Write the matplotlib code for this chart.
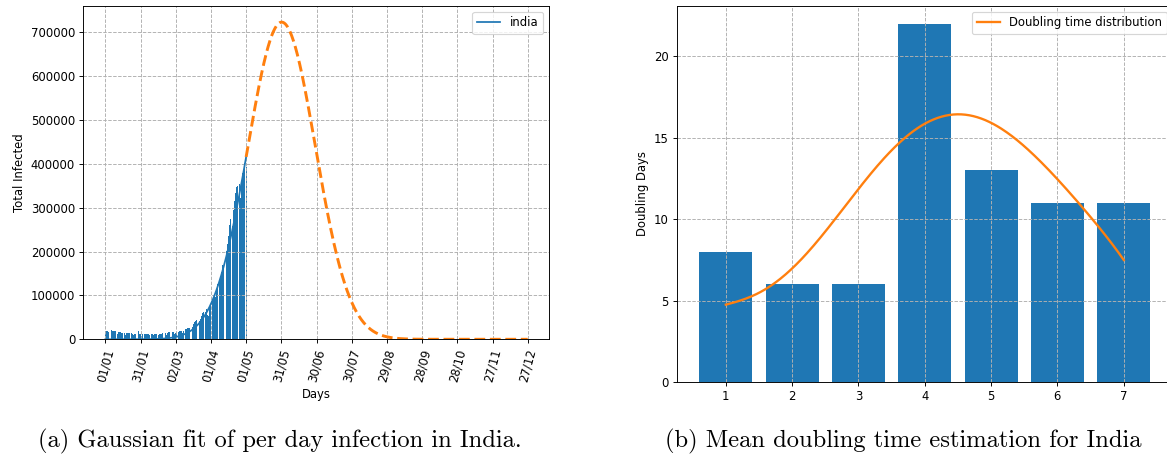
import numpy as np
import matplotlib
matplotlib.use("Agg")
import matplotlib.pyplot as plt

# ---------------- data ----------------
jan_cases = [20035, 19079, 18177, 16505, 18088, 20346, 18139, 18222, 18645, 18311,
             12584, 15968, 16946, 15590, 15158, 15144, 13788, 10064, 13823, 15223,
             14545, 14256, 14849, 13203, 9102, 12689, 11666, 18855, 18855, 13083, 13052]
feb_cases = [8635, 11039, 12899, 12408, 11713, 12059, 11831, 9110, 11067, 12923,
             9309, 12143, 11649, 12194, 9121, 11610, 12881, 13193, 13993, 14264,
             14199, 10584, 13742, 16738, 16577, 16488, 16752, 15510]
mar_cases = [12286, 14989, 17407, 16838, 18327, 18711, 18599, 15388, 17921, 22854,
             23285, 24882, 25320, 26291, 24492, 28903, 35871, 39726, 40953, 43846,
             46951, 40715, 47262, 53476, 59118, 62258, 62714, 68020, 56211, 53480, 72330]
apr_cases = [81466, 89129, 93249, 103558, 96982, 115736, 126789, 131968, 145384, 152879,
             168912, 161736, 184372, 200739, 217353, 234692, 261500, 273810, 259170, 295041,
             314835, 332730, 346786, 349691, 352991, 323144, 360960, 379257, 386452, 401993]
may_cases = [392488]

# Gaussian fit parameters (peak height, peak day, width in days)
fit_peak = 723000
fit_center = 150.3
fit_sigma = 28.8
observed_last_day = 120
forecast_last_day = 360

date_ticks = [0, 30, 60, 90, 120, 150, 180, 210, 240, 270, 300, 330, 360]
date_labels = ["01/01", "31/01", "02/03", "01/04", "01/05", "31/05", "30/06",
               "30/07", "29/08", "28/09", "28/10", "27/11", "27/12"]

# doubling-time panel
bins = [1, 2, 3, 4, 5, 6, 7]
doubling_days = [8, 6, 6, 22, 13, 11, 11]
curve_x = [1.0, 1.5, 2.0, 2.5, 3.0, 3.5, 4.0, 4.5, 5.0, 5.5, 6.0, 6.5, 7.0]
curve_y = [4.77, 5.45, 7.06, 9.2, 11.85, 14.2, 15.95, 16.42, 15.85, 14.5, 12.5, 10.1, 7.51]

caption_a = "(a) Gaussian fit of per day infection in India."
caption_b = "(b) Mean doubling time estimation for India"

# ---------------- figure ----------------
DPI = 84
fig = plt.figure(figsize=(1167 / DPI, 459 / DPI), dpi=DPI)

blue = "#1f77b4"
orange = "#ff7f0e"

# left panel
ax1 = fig.add_axes([0.0714, 0.2608, 0.3988, 0.7268])
daily = jan_cases + feb_cases + mar_cases + apr_cases + may_cases
days = np.arange(len(daily))
ax1.bar(days, daily, color=blue, width=0.8)

def gauss(x):
    return fit_peak * np.exp(-(x - fit_center) ** 2 / (2 * fit_sigma ** 2))

x_obs = np.linspace(0, observed_last_day, 300)
x_fut = np.linspace(observed_last_day, forecast_last_day, 600)
ax1.plot(x_obs, gauss(x_obs), color=blue, lw=1.5, label="india")
ax1.plot(x_fut, gauss(x_fut), color=orange, lw=2.5, ls="--")
ax1.set_xlim(-18.75, 377.9)
ax1.set_ylim(0, 760500)
ax1.set_xticks(date_ticks)
ax1.set_xticklabels(date_labels, rotation=75)
ax1.set_yticks(np.arange(0, 700001, 100000))
ax1.set_xlabel("Days")
ax1.set_ylabel("Total Infected")
ax1.grid(True, linestyle="--")
ax1.legend(loc="upper right")

# right panel
ax2 = fig.add_axes([0.5799, 0.1671, 0.4251, 0.8205])
ax2.bar(bins, doubling_days, color=blue, width=0.8)
coef = np.polyfit(curve_x, curve_y, 6)
xs = np.linspace(curve_x[0], curve_x[-1], 300)
ax2.plot(xs, np.polyval(coef, xs), color=orange, lw=2, label="Doubling time distribution")
ax2.set_xlim(0.26, 7.74)
ax2.set_ylim(0, 23.1)
ax2.set_xticks(bins)
ax2.set_yticks([0, 5, 10, 15, 20])
ax2.set_ylabel("Doubling Days")
ax2.grid(True, linestyle="--")
ax2.legend(loc="upper right")

# captions
fig.text(280 / 1167, 1 - 441 / 459, caption_a, family="cmr10", fontsize=21,
         ha="center", va="center")
fig.text(903 / 1167, 1 - 441 / 459, caption_b, family="cmr10", fontsize=21,
         ha="center", va="center")

fig.savefig("out.png", dpi=DPI)
